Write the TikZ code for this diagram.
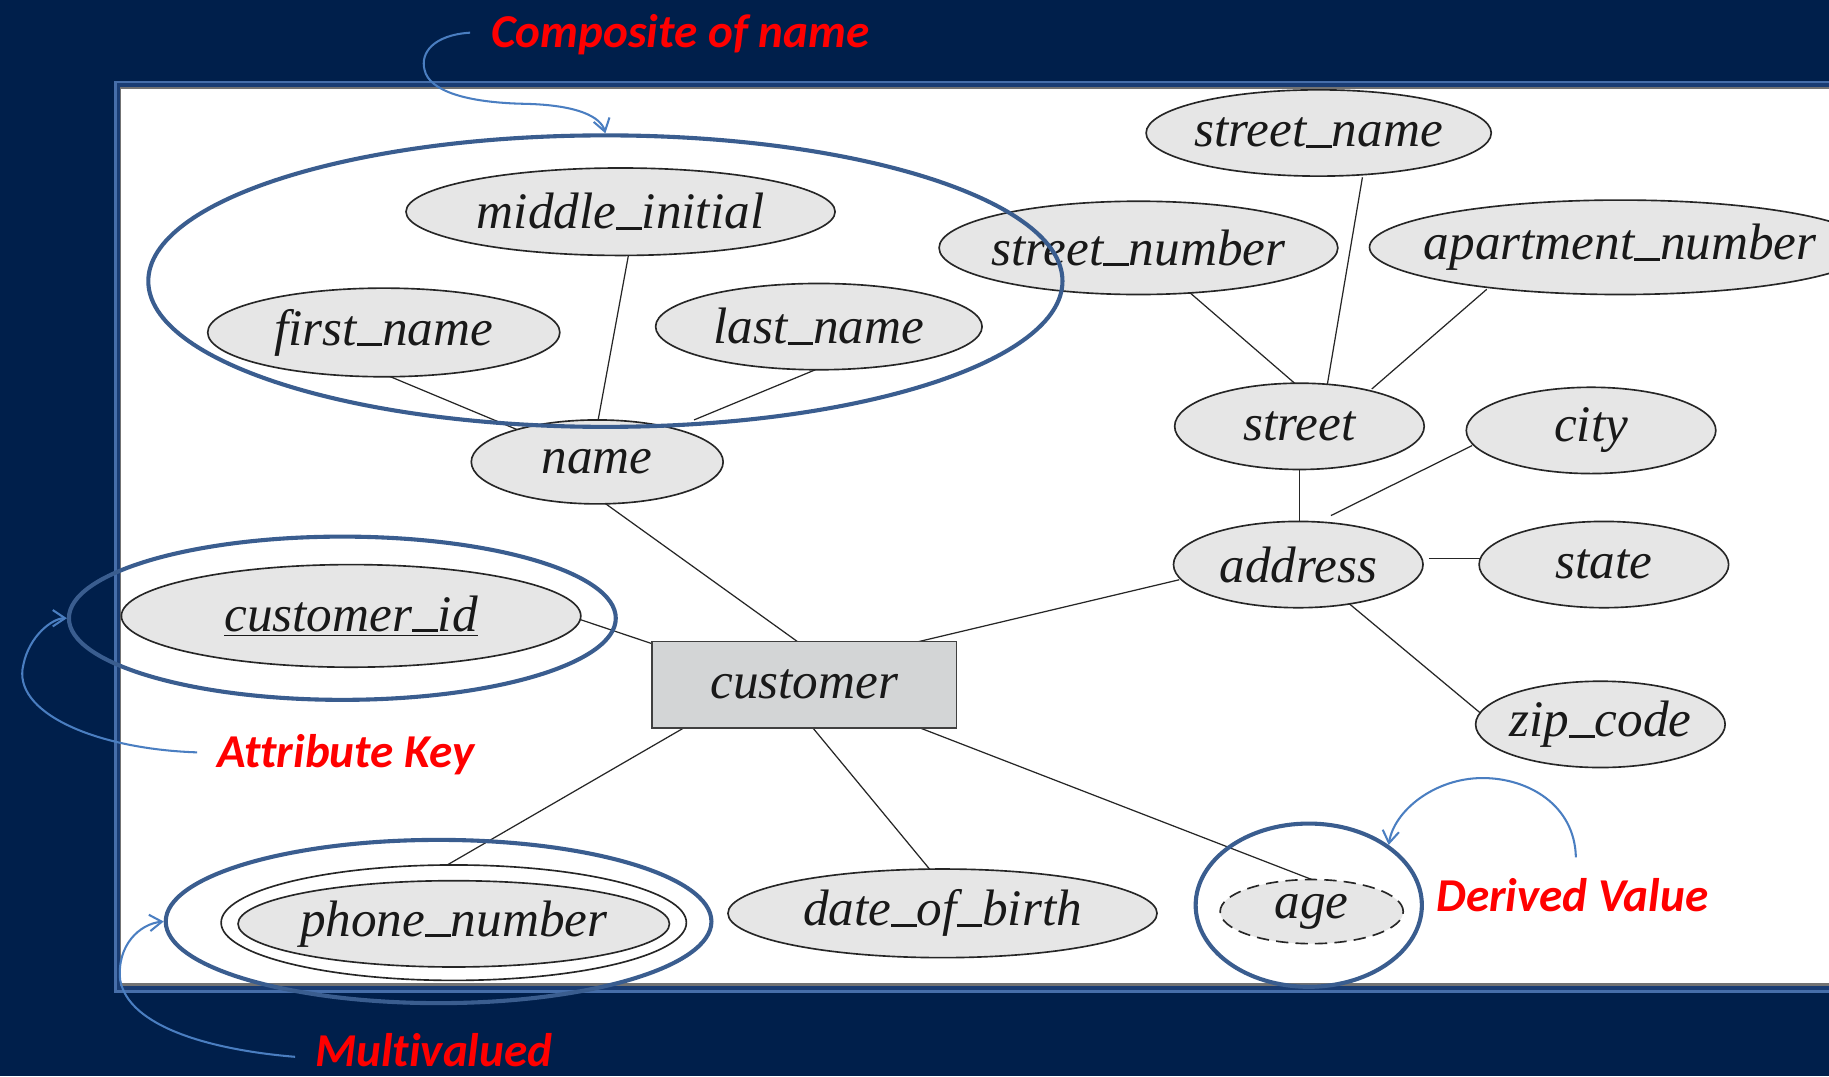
\documentclass[tikz,border=0pt]{standalone}
\usepackage{fontspec}
\setmainfont{Liberation Serif}
\newfontfamily\labfont[Ligatures={NoCommon,NoDiscretionary,NoContextual}]{Carlito}
\usetikzlibrary{shapes.geometric,arrows.meta}
\definecolor{navybg}{HTML}{001F4B}
\definecolor{framelite}{RGB}{70,110,170}
\definecolor{framemid}{RGB}{25,60,115}
\definecolor{ringblue}{RGB}{58,93,143}
\definecolor{annotblue}{RGB}{74,126,193}
\definecolor{attrfill}{HTML}{E6E6E6}
\definecolor{entfill}{HTML}{D3D5D6}
\newcommand{\usc}{\rule[-0.02em]{0.5em}{0.055em}}
\newcommand{\ctext}[1]{\makebox[0pt]{#1}}
\pgfdeclarelayer{back}
\pgfdeclarelayer{bg}
\pgfsetlayers{back,bg,main}
\begin{document}
\begin{tikzpicture}[x=0.02cm, y=-0.02cm,
  attr/.style 2 args={ellipse, draw=black!85, line width=0.8pt, fill=attrfill, inner sep=0pt,
    minimum width={#1*0.04cm}, minimum height={#2*0.04cm}, text=black!90,
    font=\fontsize{25}{30}\selectfont\itshape},
  ent/.style={rectangle, draw=black!75, line width=0.8pt, fill=entfill, inner sep=0pt,
    minimum width=5.22cm, minimum height=1.48cm, text=black!90,
    font=\fontsize{25}{30}\selectfont\itshape},
  conn/.style={draw=black!85, line width=0.6pt},
  ring/.style 2 args={ellipse, draw=ringblue, line width=2pt, inner sep=0pt,
    minimum width={#1*0.04cm}, minimum height={#2*0.04cm}},
  note/.style={text=red, font=\labfont\bfseries\itshape\fontsize{23}{27}\selectfont,
    inner sep=0pt, anchor=base west},
  pointer/.style={draw=annotblue, line width=1pt, -{Straight Barb[length=6pt,width=8pt]}}]
\useasboundingbox (0,0) rectangle (1568,922.45);
\begin{pgfonlayer}{back}
\fill[navybg] (0,0) rectangle (1568,922.45);
\fill[framelite] (97.5,69.5) rectangle (1600,851);
\fill[framemid] (100.5,71.5) rectangle (1600,849);
\fill[black!55] (103,75) rectangle (1600,845.5);
\fill[white] (104,76.5) rectangle (1600,843);
\end{pgfonlayer}

% attributes
\node[attr={184}{37.5}] (mi) at (532,181.5) {\ctext{middle\usc initial}};
\node[attr={151}{38}] (fn) at (329,285) {\ctext{first\usc name}};
\node[attr={140}{37}] (ln) at (702,280) {\ctext{last\usc name}};
\node[attr={108}{36}] (nm) at (512,396) {\ctext{name}};
\node[attr={148}{37}] (sn) at (1130.5,114) {\ctext{street\usc name}};
\node[attr={171}{40}] (snum) at (976,212.5) {\ctext{street\usc number}};
\node[attr={215}{40.5}] (apt) at (1389,212) {\ctext{apartment\usc number}};
\node[attr={107}{37}] (st) at (1114,365.5) {\ctext{street}};
\node[attr={107}{37}] (city) at (1364,369) {\ctext{city}};
\node[attr={107}{37}] (addr) at (1113,484) {\ctext{address}};
\node[attr={107}{37}] (state) at (1375,484) {\ctext{state}};
\node[attr={107}{37}] (zip) at (1372,621) {\ctext{zip\usc code}};
\node[ent] (cust) at (689.5,587) {customer};
\node[attr={197}{44}] (cid) at (301,528) {\ctext{\underline{customer\usc id}}};
\node[attr={199.5}{49.5}, fill=white] (phone) at (389,791) {};
\node[attr={185}{37}] (phonein) at (389,792) {\ctext{phone\usc number}};
\node[attr={184}{38}] (dob) at (808,783) {\ctext{date\usc of\usc birth}};
\node[attr={78.5}{27.5}, dash pattern=on 6pt off 3.5pt] (age) at (1124.5,781.5) {\ctext{age}};

% connectors
\begin{pgfonlayer}{bg}
\draw[conn] ([shift={(1,36)}]fn.center) -- ([shift={(-67,-27)}]nm.center);
\draw[conn] ([shift={(7,36)}]mi.center) -- ([shift={(0.6,-35)}]nm.center);
\draw[conn] ([shift={(-3,37)}]ln.center) -- ([shift={(83,-36)}]nm.center);
\draw[conn] ([shift={(6,35)}]nm.center) -- ([shift={(-4.5,-36)}]cust.center);
\draw[conn] ([shift={(196,3)}]cid.center) -- ([shift={(-130,-35)}]cust.center);
\draw[conn] ([shift={(-101.5,36)}]cust.center) -- ([shift={(-6.4,-49)}]phone.center);
\draw[conn] ([shift={(6.5,36)}]cust.center) -- ([shift={(-9.5,-36)}]dob.center);
\draw[conn] ([shift={(96.5,36)}]cust.center) -- ([shift={(4,-26)}]age.center);
\draw[conn] ([shift={(94,-36)}]cust.center) -- ([shift={(-102,13)}]addr.center);
\draw[conn] (st.south) -- (st.south |- addr.north);
\draw[conn] ([shift={(28,-42)}]addr.center) -- ([shift={(-102,13)}]city.center);
\draw[conn] ([shift={(112,-5)}]addr.center) -- ([shift={(-106,-5)}]state.center);
\draw[conn] ([shift={(43,33)}]addr.center) -- ([shift={(-102,-9)}]zip.center);
\draw[conn] ([shift={(43.6,38)}]snum.center) -- ([shift={(-3,-36)}]st.center);
\draw[conn] ([shift={(37.5,38)}]sn.center) -- ([shift={(23.6,-34)}]st.center);
\draw[conn] ([shift={(-114.4,36)}]apt.center) -- ([shift={(62,-32)}]st.center);
\end{pgfonlayer}

% highlight rings
\node[ring={392}{125}] (ringA) at (519,241) {};
\node[ring={234.5}{70}] (ringB) at (293.5,530) {};
\node[ring={234}{70}] (ringC) at (376,790) {};
\node[ring={97}{70}] (ringD) at (1122,776) {};

% notes
\node[note] (labComp) at (421,41) {Composite of name};
\node[note] (labKey) at (186,658) {Attribute Key};
\node[note] (labDer) at (1231,781) {Derived Value};
\node[note] (labMulti) at (270,914) {Multivalued};

\draw[pointer] ([shift={(-18,-13)}]labComp.base west) .. controls (372,30) and (360,45) .. (364,60)
  .. controls (368,78) and (400,88) .. (450,89) .. controls (495,90) and (515,100) .. (ringA.north);
\draw[pointer] ([shift={(-17,-13)}]labKey.base west) .. controls (80,642) and (10,610) .. (20,570)
  .. controls (25,545) and (45,530) .. (ringB.west);
\draw[pointer] ([shift={(-17,-8)}]labMulti.base west) .. controls (180,900) and (110,880) .. (103,840)
  .. controls (100,810) and (120,792) .. (ringC.west);
\draw[pointer] ([shift={(120,-46)}]labDer.base west) .. controls (1350,690) and (1310,667) .. (1271,667)
  .. controls (1230,667) and (1195,695) .. (ringD.37);
\end{tikzpicture}
\end{document}
